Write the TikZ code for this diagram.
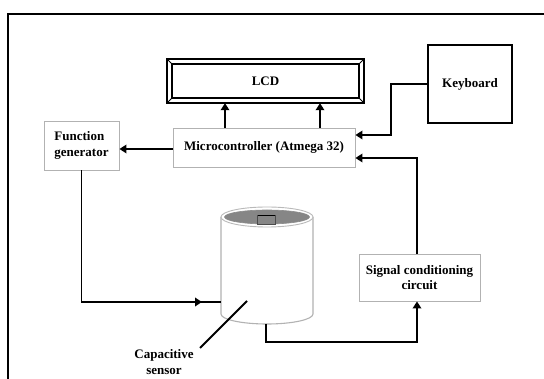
\documentclass[tikz,border=0pt]{standalone}
\usepackage{fontspec}
\setmainfont{Liberation Serif}
\usetikzlibrary{arrows.meta}
\begin{document}
\begin{tikzpicture}[x=1pt,y=-1pt,
  conn/.style={line width=1.8pt},
  arr/.style={conn,-{Triangle[length=7pt,width=8.5pt]}},
  lbl/.style={font=\fontsize{13}{15.5}\selectfont\bfseries},
  gbox/.style={draw=gray!60,line width=0.9pt,fill=white,inner sep=0pt,lbl}]
\clip (0,0) rectangle (544,379);
\useasboundingbox (0,0) rectangle (544,379);
\fill[white] (0,0) rectangle (544,379);
% outer frame
\draw[line width=2pt] (8,400) -- (8,14) -- (560,14);
% LCD
\node[minimum width=197pt,minimum height=44pt,inner sep=0pt,lbl] (lcd) at (265.5,81) {LCD};
\draw[line width=1.8pt] (lcd.north west) rectangle (lcd.south east);
\draw[line width=1.5pt] ([shift={(5,5)}]lcd.north west) rectangle ([shift={(-5,-5)}]lcd.south east);
\draw[line width=1pt] (lcd.north west) -- ([shift={(5,5)}]lcd.north west)
  (lcd.north east) -- ([shift={(-5,5)}]lcd.north east)
  (lcd.south west) -- ([shift={(5,-5)}]lcd.south west)
  (lcd.south east) -- ([shift={(-5,-5)}]lcd.south east);
% Keyboard
\node[draw,line width=1.8pt,minimum width=84pt,minimum height=78pt,inner sep=0pt,lbl] (kb) at (470,84) {Keyboard};
% Function generator
\node[gbox,minimum width=75pt,minimum height=49pt,align=left] (fg) at (81.5,145.5) {Function\\generator};
% Microcontroller
\node[gbox,minimum width=182pt,minimum height=39pt] (mc) at (264,147.5) {Microcontroller (Atmega 32)};
% Signal conditioning
\node[gbox,minimum width=121pt,minimum height=47pt,align=center] (sig) at (419.5,277.5) {Signal conditioning\\circuit};
% Capacitive sensor (cylinder)
\node[minimum width=92pt,minimum height=97pt,inner sep=0pt] (cyl) at (267,265.5) {};
\fill[white] (221,217) -- (221,314) arc[start angle=180,end angle=360,x radius=46pt,y radius=10pt] -- (313,217) -- cycle;
\draw[gray!60,line width=1.1pt] (221,217) -- (221,314) arc[start angle=180,end angle=360,x radius=46pt,y radius=10pt] -- (313,217);
\draw[gray!55,line width=0.9pt,fill=white] (267,217) ellipse[x radius=46pt,y radius=10pt];
\draw[gray!90,line width=0.6pt,fill=gray!95] (267,217) ellipse[x radius=42.5pt,y radius=7pt];
\draw[black!70,line width=0.6pt,fill=gray!95] (257.5,215.5) rectangle (275,224);
\draw[line width=1.6pt] (258,215.5) -- (274.5,215.5);
\coordinate (cylin) at (221,302);
\coordinate (cylout) at (266,324);
% connectors
\draw[arr] ([xshift=-39pt]mc.north) -- ([xshift=-39pt]mc.north |- lcd.south);
\draw[arr] ([xshift=56pt]mc.north) -- ([xshift=56pt]mc.north |- lcd.south);
\draw[arr] (kb.west) -- ++(-36,0) |- ([yshift=12.5pt]mc.east);
\draw[arr] ([xshift=-2.5pt]sig.north) |- ([yshift=-10.5pt]mc.east);
\draw[arr] (mc.west |- 0,149) -- (fg.east |- 0,149);
\draw[conn] (fg.south) |- (cylin);
\draw[arr] (fg.south |- cylin) -- ([xshift=-19pt]cylin);
\draw[arr] (cylout) -- ++(0,18) -| ([xshift=-2.5pt]sig.south);
% pointer label
\node[lbl,align=center] (cap) at (164,362) {Capacitive\\sensor};
\coordinate (ptr) at (247,301);
\draw[line width=1.8pt] (ptr) -- (200,348);
\end{tikzpicture}
\end{document}
